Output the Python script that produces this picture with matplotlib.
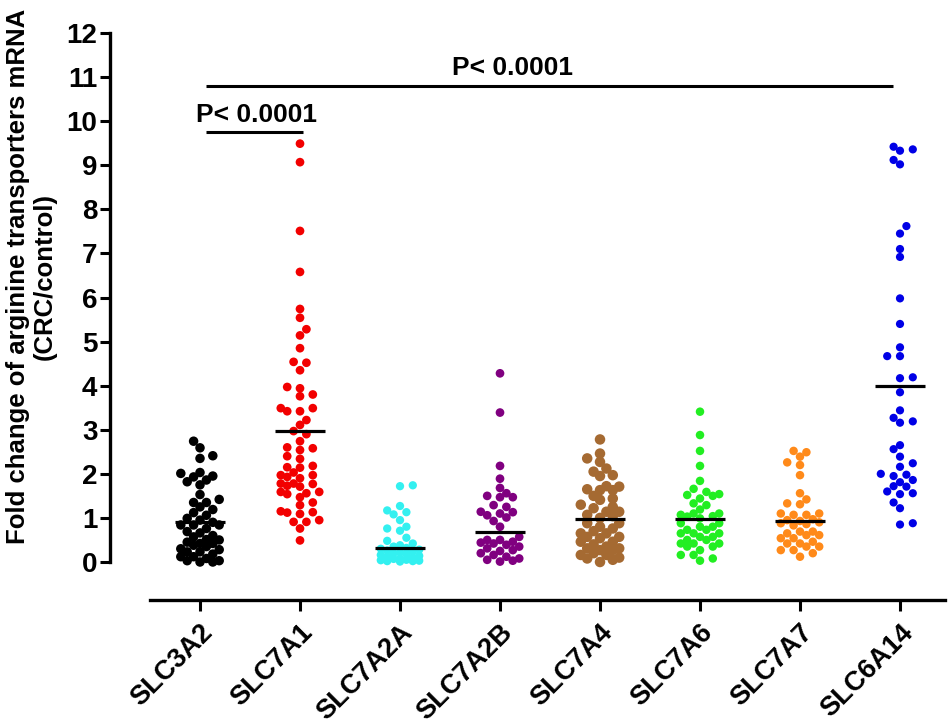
import numpy as np
import matplotlib
matplotlib.use("Agg")
import matplotlib.pyplot as plt

plt.rcParams['font.family'] = ['Liberation Sans', 'DejaVu Sans']
plt.rcParams['font.weight'] = 'bold'

# ---------------- data ----------------
categories = ["SLC3A2", "SLC7A1", "SLC7A2A", "SLC7A2B", "SLC7A4", "SLC7A6", "SLC7A7", "SLC6A14"]

slc3a2 = [2.74, 2.59, 2.41, 2.35, 2.03, 2.01, 1.95, 1.93, 1.86, 1.82, 1.75, 1.53, 1.42, 1.35, 1.35,
          1.25, 1.19, 1.12, 1.06, 0.99, 0.95, 0.90, 0.84, 0.84, 0.84, 0.76, 0.69, 0.66, 0.60, 0.57,
          0.51, 0.50, 0.45, 0.42, 0.42, 0.38, 0.35, 0.30, 0.28, 0.23, 0.23, 0.18, 0.12, 0.12, 0.08,
          0.03, 0.03, 0.00, 0.00]
slc7a1 = [9.49, 9.07, 7.51, 6.58, 5.74, 5.54, 5.28, 5.14, 4.85, 4.54, 4.52, 4.35, 3.97, 3.94, 3.80,
          3.76, 3.49, 3.49, 3.42, 3.42, 3.22, 3.11, 2.97, 2.90, 2.74, 2.60, 2.58, 2.54, 2.40, 2.34,
          2.18, 2.15, 2.14, 2.03, 1.97, 1.97, 1.93, 1.90, 1.78, 1.78, 1.77, 1.73, 1.71, 1.59, 1.59,
          1.56, 1.54, 1.47, 1.35, 1.29, 1.15, 1.13, 1.12, 1.09, 0.95, 0.91, 0.91, 0.76, 0.49]
slc7a2a = [1.74, 1.72, 1.27, 1.17, 1.13, 1.08, 0.95, 0.80, 0.76, 0.71, 0.55, 0.48, 0.42, 0.38, 0.35,
           0.32, 0.30, 0.28, 0.26, 0.24, 0.22, 0.20, 0.18, 0.16, 0.14, 0.12, 0.10, 0.08, 0.07, 0.05,
           0.04, 0.03, 0.02, 0.02, 0.01]
slc7a2b = [4.28, 3.39, 2.18, 1.89, 1.68, 1.56, 1.50, 1.47, 1.47, 1.29, 1.25, 1.14, 1.13, 1.10, 1.06,
           1.01, 0.93, 0.80, 0.57, 0.50, 0.50, 0.46, 0.44, 0.42, 0.39, 0.35, 0.31, 0.27, 0.25, 0.20,
           0.16, 0.12, 0.08, 0.05, 0.03, 0.01]
slc7a4 = [2.78, 2.46, 2.35, 2.27, 2.12, 2.05, 1.97, 1.95, 1.72, 1.71, 1.65, 1.63, 1.63, 1.50, 1.44,
          1.41, 1.30, 1.25, 1.22, 1.14, 1.14, 1.07, 1.04, 1.00, 0.88, 0.88, 0.80, 0.76, 0.70, 0.65,
          0.65, 0.57, 0.57, 0.54, 0.46, 0.46, 0.40, 0.35, 0.31, 0.31, 0.27, 0.27, 0.20, 0.16, 0.16,
          0.10, 0.08, 0.05, 0.00]
slc7a6 = [3.41, 2.88, 2.52, 2.18, 1.84, 1.66, 1.59, 1.54, 1.52, 1.50, 1.44, 1.33, 1.29, 1.19, 1.10,
          1.10, 1.07, 1.04, 1.03, 0.99, 0.88, 0.88, 0.80, 0.80, 0.73, 0.73, 0.65, 0.65, 0.65, 0.57,
          0.57, 0.50, 0.50, 0.42, 0.42, 0.42, 0.35, 0.35, 0.27, 0.16, 0.16, 0.08, 0.03]
slc7a7 = [2.52, 2.49, 2.39, 2.26, 2.20, 1.97, 1.56, 1.42, 1.33, 1.31, 1.10, 1.10, 1.07, 1.07, 0.97,
          0.95, 0.93, 0.90, 0.88, 0.86, 0.83, 0.69, 0.69, 0.65, 0.61, 0.61, 0.54, 0.54, 0.46, 0.42,
          0.42, 0.35, 0.35, 0.27, 0.27, 0.20, 0.12]
slc6a14 = [9.42, 9.36, 9.33, 9.12, 9.02, 7.62, 7.45, 7.10, 6.92, 5.98, 5.40, 4.87, 4.67, 4.67, 4.19,
           4.17, 3.85, 3.44, 3.27, 3.19, 3.16, 2.65, 2.56, 2.39, 2.24, 2.16, 2.00, 1.98, 1.95, 1.86,
           1.81, 1.72, 1.71, 1.60, 1.56, 1.54, 1.35, 1.22, 0.88, 0.85]

groups = [slc3a2, slc7a1, slc7a2a, slc7a2b, slc7a4, slc7a6, slc7a7, slc6a14]
mean_values = [0.91, 2.97, 0.32, 0.69, 0.97, 0.97, 0.93, 4.00]

yticks = list(range(0, 13))
p_label = "P< 0.0001"

# ---------------- style ----------------
colors = ["#000000", "#f20000", "#33f0f0", "#800080", "#a56a32", "#22ee22", "#ff8a1a", "#0000e6"]
dot_px = [9.5, 8.7, 8.3, 8.7, 10.5, 8.5, 8.5, 8.2]

W, H = 950, 724
fig = plt.figure(figsize=(W / 100, H / 100), dpi=100)
ax_left, ax_right, ax_top, ax_bottom = 110, 950, 33, 600
ax = fig.add_axes([ax_left / W, 1 - ax_bottom / H, (ax_right - ax_left) / W, (ax_bottom - ax_top) / H])
ylo, yhi = -0.862, 12
xlo, xhi = -0.9, 7.5
ax.set_xlim(xlo, xhi)
ax.set_ylim(ylo, yhi)

px_per_x = (ax_right - ax_left) / (xhi - xlo)
px_per_y = (ax_bottom - ax_top) / (yhi - ylo)


def swarm_offsets(vals, col_px=6.4, dmin_px=7.5, ncol=3):
    vals = np.asarray(vals, dtype=float)
    order = np.argsort(vals, kind="stable")
    placed = []
    off = np.zeros(len(vals))
    flip = 1
    for i in order:
        y = vals[i] * px_per_y
        cols = [0]
        for k in range(1, ncol + 1):
            cols += [flip * k, -flip * k]
        chosen, bestc, bestd = None, 0, -1.0
        for c in cols:
            x = c * col_px
            dmin = min((np.hypot(x - px, y - py) for px, py in placed), default=np.inf)
            if dmin >= dmin_px:
                chosen = c
                break
            if dmin > bestd:
                bestd, bestc = dmin, c
        if chosen is None:
            chosen = bestc
        if chosen != 0:
            flip = -flip
        placed.append((chosen * col_px, y))
        off[i] = chosen * col_px / px_per_x
    return off


for i, vals in enumerate(groups):
    offs = swarm_offsets(vals)
    ax.scatter(i + offs, vals, s=(dot_px[i] * 72 / 100) ** 2, color=colors[i],
               edgecolors="none", zorder=3, clip_on=False)
    ax.plot([i - 0.25, i + 0.25], [mean_values[i], mean_values[i]], color="black",
            lw=2.3, zorder=4, solid_capstyle="butt")

# significance annotations
ax.plot([0.06, 1.03], [9.76, 9.76], color="black", lw=2.2, solid_capstyle="butt")
ax.text(0.57, 9.98, p_label, ha="center", va="baseline", fontsize=19, fontweight="bold")
ax.plot([0.06, 6.93], [10.8, 10.8], color="black", lw=2.2, solid_capstyle="butt")
ax.text(3.13, 11.05, p_label, ha="center", va="baseline", fontsize=19, fontweight="bold")

# axes styling
for s in ["top", "right"]:
    ax.spines[s].set_visible(False)
ax.spines["left"].set_bounds(0, 12)
ax.spines["bottom"].set_bounds(-0.5, 7.45)
ax.spines["left"].set_linewidth(2.4)
ax.spines["bottom"].set_linewidth(2.4)

ax.set_yticks(yticks)
ax.set_yticklabels([str(t) for t in yticks], fontsize=20, fontweight="bold")
ax.set_xticks(range(len(categories)))
ax.set_xticklabels(categories, rotation=45, ha="right", rotation_mode="anchor",
                   fontsize=19.5, fontweight="bold")
ax.tick_params(axis="y", length=7, width=2.2, pad=2)
ax.tick_params(axis="x", length=8, width=2.2, pad=6)

fig.text(31 / W, 1 - 276 / H, "Fold change of arginine transporters mRNA\n(CRC/control)",
         rotation=90, ha="center", va="center", multialignment="center",
         fontsize=18.5, fontweight="bold", linespacing=1.15)

fig.savefig("out.png", dpi=100)
